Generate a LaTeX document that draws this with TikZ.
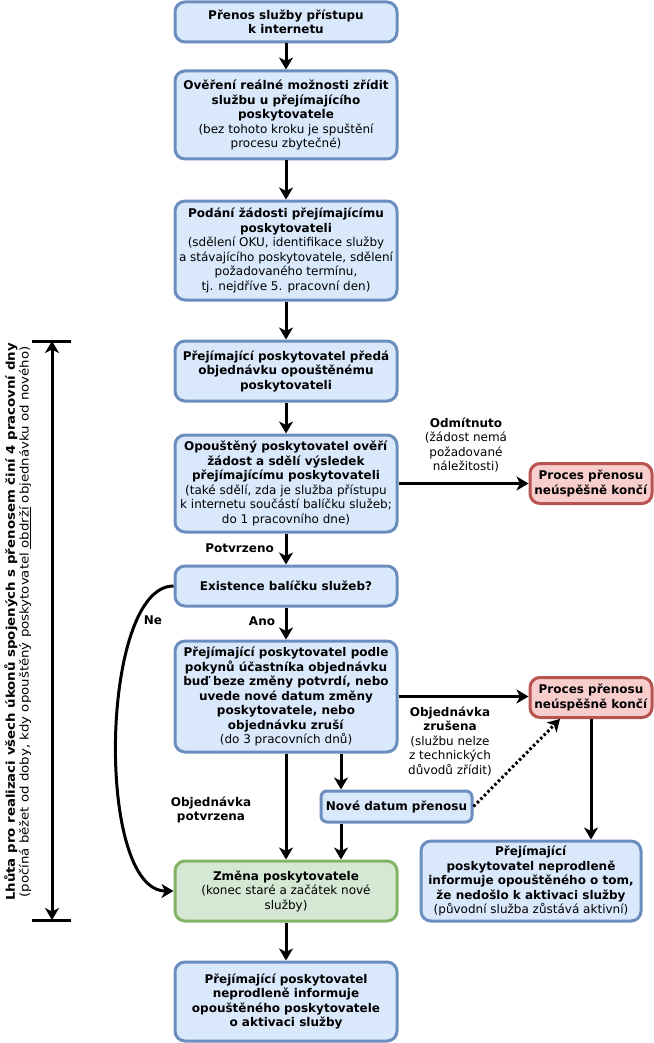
\documentclass[tikz,border=0pt]{standalone}
\usepackage{fontspec}
\usepackage{graphicx}
\setmainfont{DejaVu Sans}
\usetikzlibrary{arrows.meta}
\definecolor{bfill}{HTML}{DAE8FC}
\definecolor{bdraw}{HTML}{6C8EBF}
\definecolor{rfill}{HTML}{F8CECC}
\definecolor{rdraw}{HTML}{B85450}
\definecolor{gfill}{HTML}{D5E8D4}
\definecolor{gdraw}{HTML}{82B366}
\begin{document}
\begin{tikzpicture}[x=1pt,y=-1pt,
  txt/.style={font=\fontsize{12}{14.5}\selectfont, align=center, inner sep=0pt},
  basebox/.style={txt, line width=3pt, rounded corners=10pt},
  bluebox/.style={basebox, draw=bdraw, fill=bfill, minimum width=222pt},
  redbox/.style={basebox, draw=rdraw, fill=rfill, minimum width=122pt, minimum height=40pt},
  greenbox/.style={basebox, draw=gdraw, fill=gfill, minimum width=222pt},
  tip/.style={-{Stealth[length=12pt,width=14pt,inset=3.5pt]}},
  arr/.style={line width=3pt, tip},
  dimarr/.style={line width=3pt, {Stealth[length=12pt,width=14pt,inset=3.5pt]}-{Stealth[length=12pt,width=14pt,inset=3.5pt]}},
  lbl/.style={txt}
]
\useasboundingbox (0,0) rectangle (653,1043);

\node[bluebox, minimum height=40pt] (n1) at (286,22) {\textbf{Přenos služby přístupu}\\\textbf{k internetu}};
\node[bluebox, minimum height=88pt] (n2) at (286,115) {\textbf{Ověření reálné možnosti zřídit}\\\textbf{službu u přejímajícího}\\\textbf{poskytovatele}\\(bez tohoto kroku je spuštění\\procesu zbytečné)};
\node[bluebox, minimum height=99pt] (n3) at (286,250.5) {\textbf{Podání žádosti přejímajícímu}\\\textbf{poskytovateli}\\(sdělení OKU, identifikace služby\\a stávajícího poskytovatele, sdělení\\požadovaného termínu,\\tj. nejdříve 5. pracovní den)};
\node[bluebox, minimum height=60pt] (n4) at (286,371) {\textbf{Přejímající poskytovatel předá}\\\textbf{objednávku opouštěnému}\\\textbf{poskytovateli}};
\node[bluebox, minimum height=97pt] (n5) at (286,483.5) {\textbf{Opouštěný poskytovatel ověří}\\\textbf{žádost a sdělí výsledek}\\\textbf{přejímajícímu poskytovateli}\\(také sdělí, zda je služba přístupu\\k internetu součástí balíčku služeb;\\do 1 pracovního dne)};
\node[bluebox, minimum height=40pt] (n6) at (286,586) {\textbf{Existence balíčku služeb?}};
\node[bluebox, minimum height=111pt] (n7) at (286,696.5) {\textbf{Přejímající poskytovatel podle}\\\textbf{pokynů účastníka objednávku}\\\textbf{buď beze změny potvrdí, nebo}\\\textbf{uvede nové datum změny}\\\textbf{poskytovatele, nebo}\\\textbf{objednávku zruší}\\(do 3 pracovních dnů)};
\node[bluebox, minimum width=151pt, minimum height=31pt, rounded corners=6pt] (n8) at (396.5,806.5) {\textbf{Nové datum přenosu}};
\node[greenbox, minimum height=60pt] (n9) at (286,891) {\textbf{Změna poskytovatele}\\(konec staré a začátek nové\\služby)};
\node[bluebox, minimum height=79pt] (n10) at (286,1001.5) {\textbf{Přejímající poskytovatel}\\\textbf{neprodleně informuje}\\\textbf{opouštěného poskytovatele}\\\textbf{o aktivaci služby}};
\node[redbox] (r1) at (591,483.5) {\textbf{Proces přenosu}\\\textbf{neúspěšně končí}};
\node[redbox] (r2) at (591,697.5) {\textbf{Proces přenosu}\\\textbf{neúspěšně končí}};
\node[bluebox, minimum width=220pt, minimum height=80pt] (n13) at (531,881) {\textbf{Přejímající}\\\textbf{poskytovatel neprodleně}\\\textbf{informuje opouštěného o tom,}\\\textbf{že nedošlo k aktivaci služby}\\(původní služba zůstává aktivní)};

\draw[arr] (n1) -- (n2);
\draw[arr] (n2) -- (n3);
\draw[arr] (n3) -- (n4);
\draw[arr] (n4) -- (n5);
\draw[arr] (n5) -- (n6);
\draw[arr] (n6) -- (n7);
\draw[arr] (n5.east) -- (n5.east -| r1.west);
\draw[arr] (n7.east) -- (n7.east -| r2.west);
\draw[arr] ([xshift=55pt]n7.south) -- ([xshift=55pt]n7.south |- n8.north);
\draw[arr] (n7) -- (n9);
\draw[arr] ([xshift=-55.5pt]n8.south) -- ([xshift=-55.5pt]n8.south |- n9.north);
\draw[line width=3pt, dash pattern=on 2.5pt off 2.5pt, tip] (n8.east) -- ([xshift=-31pt]r2.south);
\draw[arr] (r2.south) -- (r2.south |- n13.north);
\draw[arr] (n9) -- (n10);
\draw[arr] (n6.west) .. controls (100,586) and (95,891) .. (n9.west);

\node[lbl, anchor=east] (lp) at (274,548) {\textbf{Potvrzeno}};
\node[lbl] (la) at (262,621) {\textbf{Ano}};
\node[lbl] (ln) at (153,620) {\textbf{Ne}};
\node[lbl] (lo) at (466,445) {\textbf{Odmítnuto}\\(žádost nemá\\požadované\\náležitosti)};
\node[lbl] (lz) at (450,741) {\textbf{Objednávka}\\\textbf{zrušena}\\(službu nelze\\z technických\\důvodů zřídit)};
\node[lbl] (lpo) at (211,810) {\textbf{Objednávka}\\\textbf{potvrzena}};

\coordinate (dt) at (52,341);
\coordinate (db) at (52,920);
\draw[line width=3pt] ([xshift=-20pt]dt) -- ([xshift=19pt]dt);
\draw[line width=3pt] ([xshift=-20pt]db) -- ([xshift=19pt]db);
\draw[dimarr] (dt) -- (db);
\node[lbl, rotate=90] (v1) at (11,622) {\scalebox{1.11}[1]{\textbf{Lhůta pro realizaci všech úkonů spojených s přenosem činí 4 pracovní dny}}};
\node[lbl, rotate=90] (v2) at (25,622) {\scalebox{1.11}[1]{(počíná běžet od doby, kdy opouštěný poskytovatel \underline{obdrží} objednávku od nového)}};
\end{tikzpicture}
\end{document}
